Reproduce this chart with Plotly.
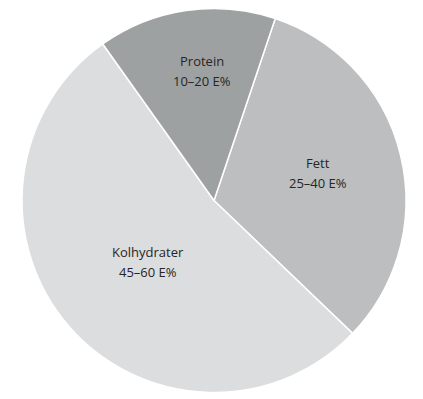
import math
import plotly.graph_objects as go

# Energy distribution (E%) per macronutrient with recommended ranges
labels = ["Fett", "Kolhydrater", "Protein"]
ranges = ["25–40 E%", "45–60 E%", "10–20 E%"]
values = [32, 53, 15]
colors = ["#bcbebf", "#dcddde", "#9ea1a2"]

W, H = 423, 399
ml, mr, mt, mb = 22, 17, 8, 6
rotation = 18.6  # degrees clockwise from 12 o'clock where the first slice starts

fig = go.Figure(
    go.Pie(
        labels=labels,
        values=values,
        sort=False,
        direction="clockwise",
        rotation=rotation,
        marker=dict(colors=colors, line=dict(color="white", width=1.5)),
        textinfo="none",
        hoverinfo="label+value",
        showlegend=False,
    )
)

# Place each slice's label near its mid-angle, at a per-slice radius fraction
pw, ph = W - ml - mr, H - mt - mb
R = min(pw, ph) / 2
cx, cy = pw / 2, ph / 2
radial_frac = [0.56, 0.47, 0.675]
angle_adj = [-1.0, -2.5, 3.0]
total = sum(values)
start = rotation
annotations = []
for lab, rng, v, f, da in zip(labels, ranges, values, radial_frac, angle_adj):
    mid = math.radians(start + 360 * v / total / 2 + da)
    start += 360 * v / total
    px = cx + f * R * math.sin(mid)
    py = cy - f * R * math.cos(mid)
    xp, yp = px / pw, 1 - py / ph
    for txt, shift in ((lab, 10), (rng, -10)):
        annotations.append(
            dict(
                x=xp, y=yp, xref="paper", yref="paper",
                xanchor="center", yanchor="middle",
                text=txt, showarrow=False, yshift=shift,
                font=dict(family="Open Sans", size=13, color="#262626"),
            )
        )

fig.update_layout(
    width=W,
    height=H,
    margin=dict(l=ml, r=mr, t=mt, b=mb),
    paper_bgcolor="white",
    plot_bgcolor="white",
    annotations=annotations,
)

fig.write_html("out.html")
